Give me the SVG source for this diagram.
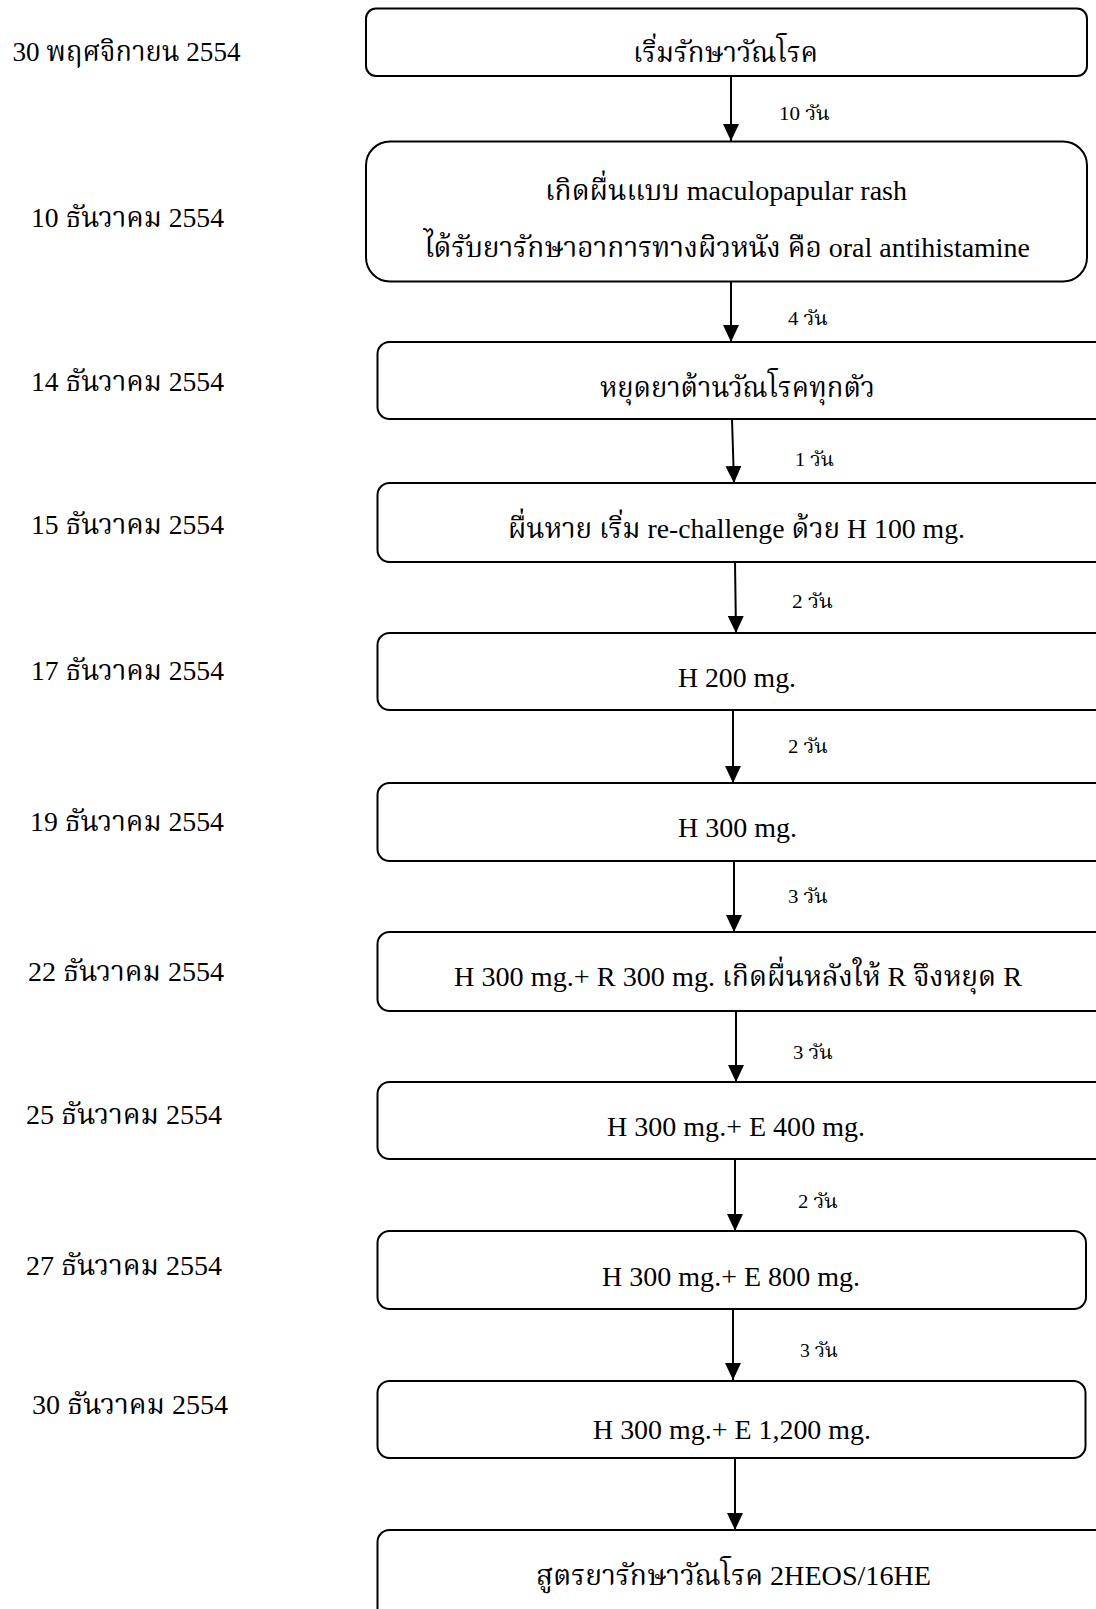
<svg xmlns="http://www.w3.org/2000/svg" width="1096" height="1609" viewBox="0 0 1096 1609">
<style>
.box{fill:#fff;stroke:#000;stroke-width:2}
text{font-family:"Liberation Serif","Noto Serif Thai","Noto Sans Thai",serif;fill:#000}
.t{font-size:28px}
.s{font-size:19px}
.conn line{stroke:#000;stroke-width:2;marker-end:url(#ah)}
</style>
<defs>
<marker id="ah" markerUnits="userSpaceOnUse" markerWidth="17" markerHeight="16" refX="17" refY="8" orient="auto">
<path d="M0,0 L17,8 L0,16 z" fill="#000"/>
</marker>
</defs>
<rect width="1096" height="1609" fill="#fff"/>

<g id="dates">
<text class="t" x="12.5" y="61" textLength="228" lengthAdjust="spacingAndGlyphs">30 พฤศจิกายน 2554</text>
<text class="t" x="31" y="227" textLength="193" lengthAdjust="spacingAndGlyphs">10 ธันวาคม 2554</text>
<text class="t" x="31" y="391" textLength="193" lengthAdjust="spacingAndGlyphs">14 ธันวาคม 2554</text>
<text class="t" x="31" y="534" textLength="193" lengthAdjust="spacingAndGlyphs">15 ธันวาคม 2554</text>
<text class="t" x="31" y="680" textLength="193" lengthAdjust="spacingAndGlyphs">17 ธันวาคม 2554</text>
<text class="t" x="30" y="831" textLength="194" lengthAdjust="spacingAndGlyphs">19 ธันวาคม 2554</text>
<text class="t" x="28" y="981" textLength="196" lengthAdjust="spacingAndGlyphs">22 ธันวาคม 2554</text>
<text class="t" x="26" y="1124" textLength="196" lengthAdjust="spacingAndGlyphs">25 ธันวาคม 2554</text>
<text class="t" x="26" y="1275" textLength="196" lengthAdjust="spacingAndGlyphs">27 ธันวาคม 2554</text>
<text class="t" x="32" y="1414" textLength="196" lengthAdjust="spacingAndGlyphs">30 ธันวาคม 2554</text>
</g>

<g id="n1"><rect class="box" x="366" y="8.5" width="721" height="67.5" rx="10"/>
<text class="t" x="633" y="62" textLength="185" lengthAdjust="spacingAndGlyphs">เริ่มรักษาวัณโรค</text></g>

<g id="n2"><rect class="box" x="366" y="141.5" width="721" height="140" rx="24"/>
<text class="t" x="545" y="200" textLength="362" lengthAdjust="spacingAndGlyphs">เกิดผื่นแบบ maculopapular rash</text>
<text class="t" x="424" y="257" textLength="606" lengthAdjust="spacingAndGlyphs">ได้รับยารักษาอาการทางผิวหนัง คือ oral antihistamine</text></g>

<g id="n3"><rect class="box" x="377.5" y="342" width="730" height="77" rx="12"/>
<text class="t" x="600" y="397" textLength="275" lengthAdjust="spacingAndGlyphs">หยุดยาต้านวัณโรคทุกตัว</text></g>

<g id="n4"><rect class="box" x="377.5" y="483" width="730" height="79" rx="12"/>
<text class="t" x="508" y="538" textLength="457" lengthAdjust="spacingAndGlyphs">ผื่นหาย เริ่ม re-challenge ด้วย H 100 mg.</text></g>

<g id="n5"><rect class="box" x="377.5" y="633" width="730" height="77" rx="12"/>
<text class="t" x="678" y="687" textLength="118" lengthAdjust="spacingAndGlyphs">H 200 mg.</text></g>

<g id="n6"><rect class="box" x="377.5" y="783" width="730" height="78" rx="12"/>
<text class="t" x="678" y="837" textLength="119" lengthAdjust="spacingAndGlyphs">H 300 mg.</text></g>

<g id="n7"><rect class="box" x="377.5" y="932" width="730" height="79" rx="12"/>
<text class="t" x="454" y="986" textLength="568" lengthAdjust="spacingAndGlyphs">H 300 mg.+ R 300 mg. เกิดผื่นหลังให้ R จึงหยุด R</text></g>

<g id="n8"><rect class="box" x="377.5" y="1082" width="730" height="77" rx="12"/>
<text class="t" x="607" y="1136" textLength="258" lengthAdjust="spacingAndGlyphs">H 300 mg.+ E 400 mg.</text></g>

<g id="n9"><rect class="box" x="377.5" y="1231" width="708.5" height="78" rx="12"/>
<text class="t" x="602" y="1286" textLength="258" lengthAdjust="spacingAndGlyphs">H 300 mg.+ E 800 mg.</text></g>

<g id="n10"><rect class="box" x="377.5" y="1381" width="708" height="77" rx="12"/>
<text class="t" x="593" y="1439" textLength="278" lengthAdjust="spacingAndGlyphs">H 300 mg.+ E 1,200 mg.</text></g>

<g id="n11"><rect class="box" x="377.5" y="1530" width="730" height="100" rx="12"/>
<text class="t" x="536" y="1585" textLength="395" lengthAdjust="spacingAndGlyphs">สูตรยารักษาวัณโรค 2HEOS/16HE</text></g>

<g id="connectors" class="conn">
<line x1="731" y1="76" x2="731" y2="141"/>
<line x1="731" y1="282" x2="731" y2="342"/>
<line x1="732" y1="419" x2="734" y2="483"/>
<line x1="735" y1="562" x2="736" y2="633"/>
<line x1="733" y1="710" x2="733" y2="783"/>
<line x1="734" y1="861" x2="734" y2="932"/>
<line x1="736" y1="1011" x2="736" y2="1082"/>
<line x1="735" y1="1159" x2="735" y2="1231"/>
<line x1="733" y1="1309" x2="733" y2="1380"/>
<line x1="735" y1="1458" x2="735" y2="1530"/>
</g>

<g id="labels">
<text class="s" x="779" y="120" textLength="51" lengthAdjust="spacingAndGlyphs">10 วัน</text>
<text class="s" x="788" y="325" textLength="40" lengthAdjust="spacingAndGlyphs">4 วัน</text>
<text class="s" x="795" y="466" textLength="39" lengthAdjust="spacingAndGlyphs">1 วัน</text>
<text class="s" x="792" y="608" textLength="41" lengthAdjust="spacingAndGlyphs">2 วัน</text>
<text class="s" x="788" y="753" textLength="40" lengthAdjust="spacingAndGlyphs">2 วัน</text>
<text class="s" x="788" y="903" textLength="40" lengthAdjust="spacingAndGlyphs">3 วัน</text>
<text class="s" x="793" y="1059" textLength="40" lengthAdjust="spacingAndGlyphs">3 วัน</text>
<text class="s" x="798" y="1208" textLength="40" lengthAdjust="spacingAndGlyphs">2 วัน</text>
<text class="s" x="800" y="1357" textLength="38" lengthAdjust="spacingAndGlyphs">3 วัน</text>
</g>
</svg>
